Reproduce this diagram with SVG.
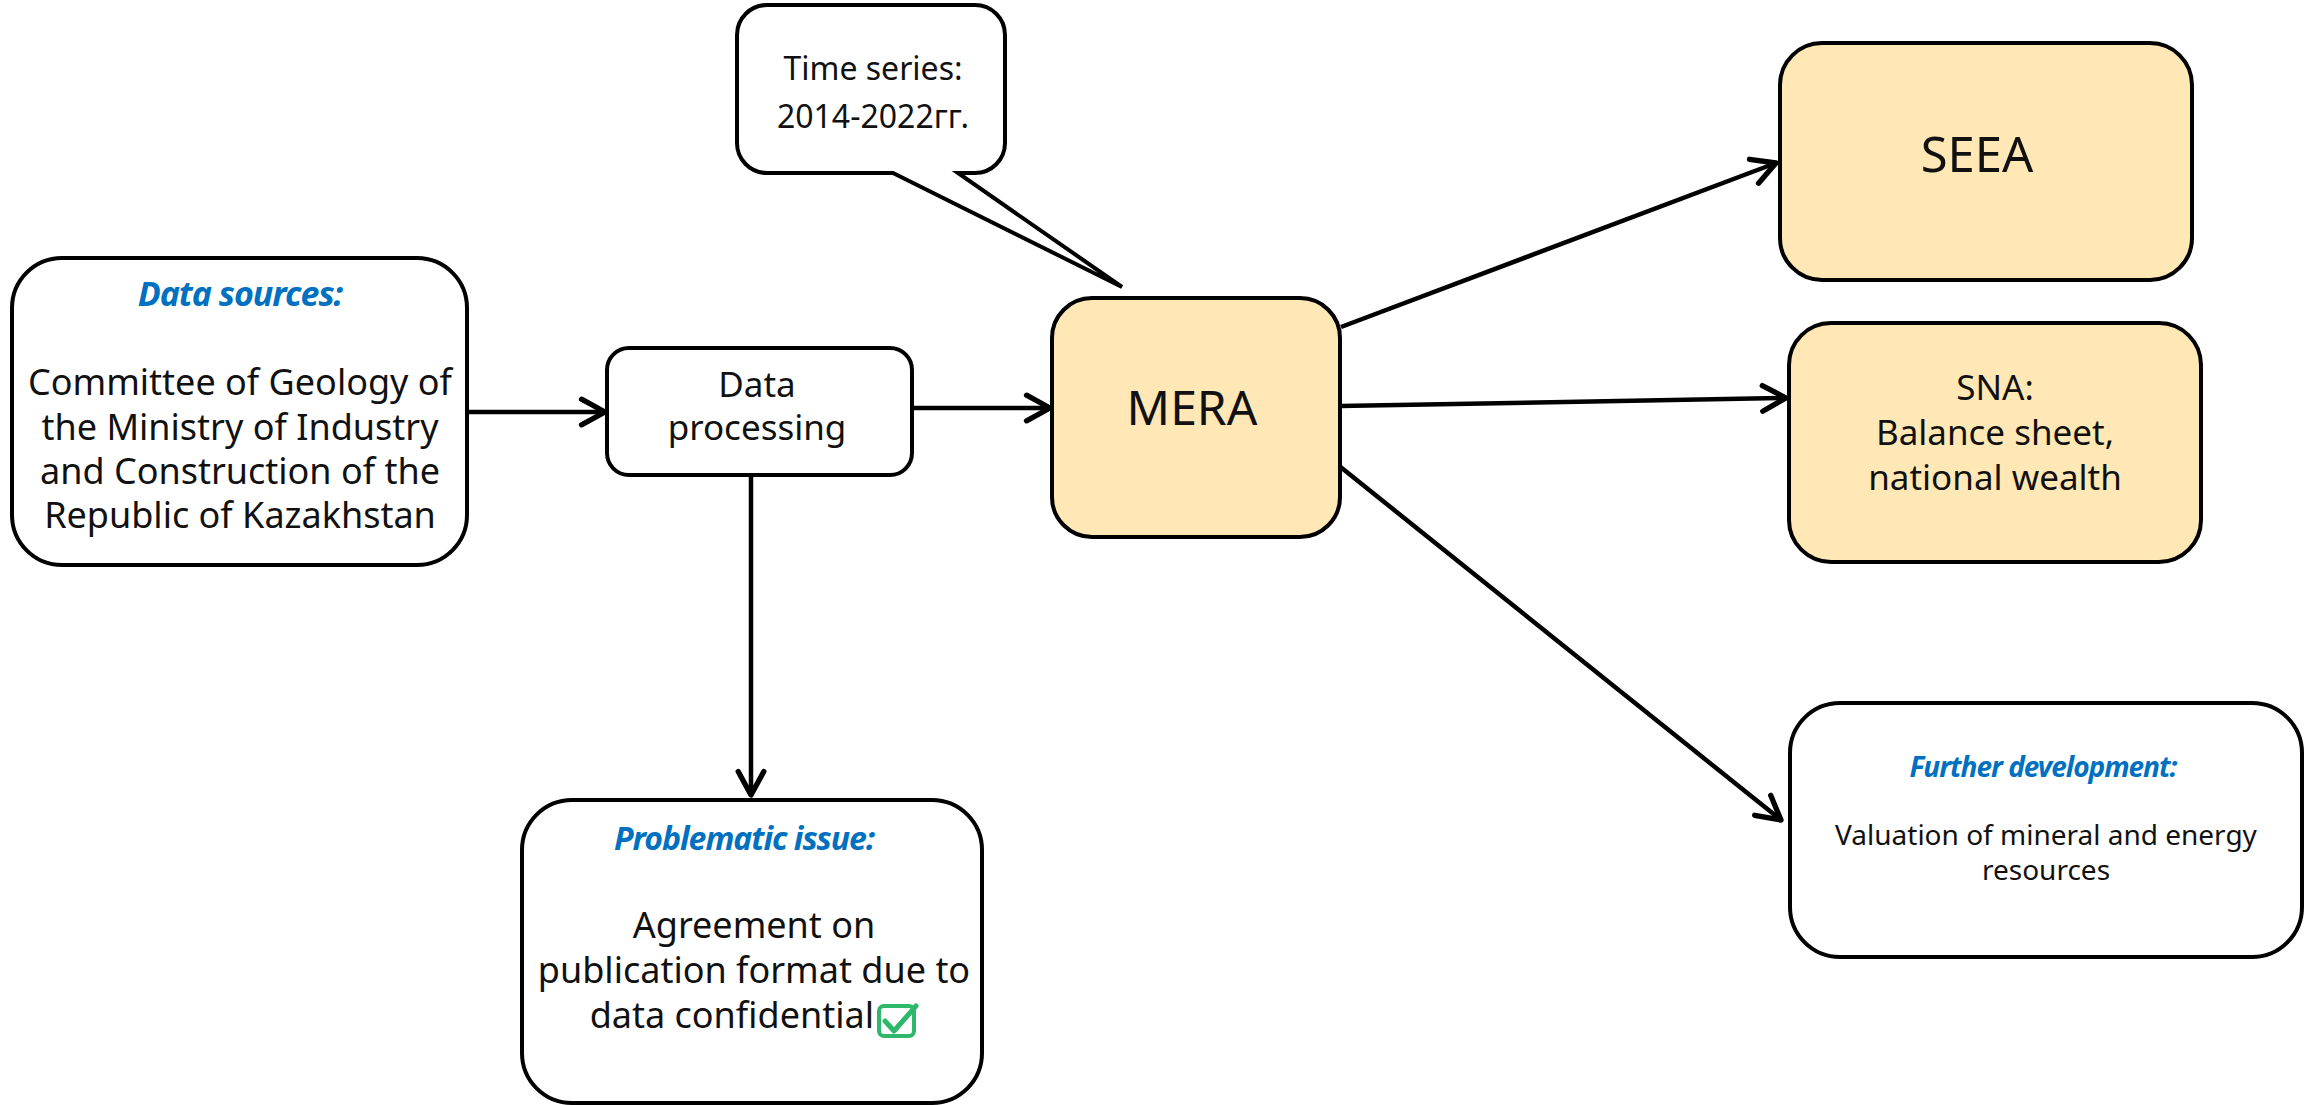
<svg xmlns="http://www.w3.org/2000/svg" width="2310" height="1105" viewBox="0 0 2310 1105">
<style>
.box{fill:#ffffff;stroke:#000;stroke-width:4}
.yel{fill:#FFE8B5;stroke:#000;stroke-width:4}
.t{font-family:"Noto Sans","Open Sans",sans-serif;fill:#111;text-anchor:middle}
.h{font-family:"Noto Sans","Open Sans",sans-serif;fill:#0070C0;font-weight:bold;font-style:italic;text-anchor:middle;letter-spacing:-1px}
.c{fill:none;stroke:#000;stroke-width:4.5;marker-end:url(#arr)}
</style>
<defs>
<marker id="arr" markerUnits="userSpaceOnUse" markerWidth="32" markerHeight="32" viewBox="-26 -14 30 28" refX="0" refY="0" orient="auto">
<path d="M-22,-12 L0,0 L-22,12" fill="none" stroke="#000" stroke-width="5" stroke-linecap="round" stroke-linejoin="round"/>
</marker>
</defs>
<rect width="2310" height="1105" fill="#fff"/>
<g id="connectors">
<path class="c" d="M467,412 L605,412"/>
<path class="c" d="M912,408 L1050,408"/>
<path class="c" d="M751,475 L751,795"/>
<path class="c" d="M1341,327 L1776,163"/>
<path class="c" d="M1340,406 L1786,398"/>
<path class="c" d="M1338,465 L1781,820"/>
</g>
<g id="data-sources">
<rect class="box" x="12" y="258" width="455" height="307" rx="50"/>
<text class="h" x="240" y="306" font-size="34">Data sources:</text>
<text class="t" x="240" y="395" font-size="36">Committee of Geology of</text>
<text class="t" x="240" y="440" font-size="36">the Ministry of Industry</text>
<text class="t" x="240" y="484" font-size="36">and Construction of the</text>
<text class="t" x="240" y="528" font-size="36">Republic of Kazakhstan</text>
</g>
<g id="data-processing">
<rect class="box" x="607" y="348" width="305" height="127" rx="22"/>
<text class="t" x="757" y="397" font-size="35">Data</text>
<text class="t" x="757" y="440" font-size="35">processing</text>
</g>
<g id="time-series">
<path class="box" d="M767,5 H975 A30,30 0 0 1 1005,35 V143 A30,30 0 0 1 975,173 H958 L1122,287 L893,173 H767 A30,30 0 0 1 737,143 V35 A30,30 0 0 1 767,5 Z"/>
<text class="t" x="873" y="80" font-size="32">Time series:</text>
<text class="t" x="873" y="128" font-size="32">2014-2022гг.</text>
</g>
<g id="mera">
<rect class="yel" x="1052" y="298" width="288" height="239" rx="40"/>
<text class="t" x="1192" y="425" font-size="48">MERA</text>
</g>
<g id="seea">
<rect class="yel" x="1780" y="43" width="412" height="237" rx="42"/>
<text class="t" x="1977" y="172" font-size="49">SEEA</text>
</g>
<g id="sna">
<rect class="yel" x="1789" y="323" width="412" height="239" rx="42"/>
<text class="t" x="1995" y="400" font-size="35">SNA:</text>
<text class="t" x="1995" y="445" font-size="35">Balance sheet,</text>
<text class="t" x="1995" y="490" font-size="35">national wealth</text>
</g>
<g id="further-development">
<rect class="box" x="1790" y="703" width="512" height="254" rx="50"/>
<text class="h" x="2043" y="777" font-size="28">Further development:</text>
<text class="t" x="2046" y="845" font-size="28">Valuation of mineral and energy</text>
<text class="t" x="2046" y="880" font-size="28">resources</text>
</g>
<g id="problematic-issue">
<rect class="box" x="522" y="800" width="460" height="303" rx="50"/>
<text class="h" x="744" y="850" font-size="32">Problematic issue:</text>
<text class="t" x="754" y="938" font-size="36">Agreement on</text>
<text class="t" x="754" y="983" font-size="36">publication format due to</text>
<text class="t" x="874" y="1028" font-size="36" style="text-anchor:end">data confidential</text>
<rect x="879" y="1006" width="35" height="30" rx="5" fill="none" stroke="#2DB86B" stroke-width="4"/>
<path d="M885,1021 L894,1031 L916,1006" fill="none" stroke="#2DB86B" stroke-width="5" stroke-linecap="round" stroke-linejoin="round"/>
</g>
</svg>
